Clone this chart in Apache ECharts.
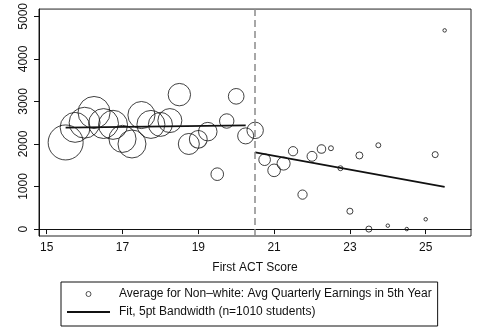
<!DOCTYPE html>
<html>
<head>
<meta charset="utf-8">
<script src="https://cdn.jsdelivr.net/npm/echarts@6/dist/echarts.min.js"></script>
<style>
html,body{margin:0;padding:0;background:#fff;}
#chart{width:479px;height:327px;}
</style>
</head>
<body>
<div id="chart"></div>
<script>
// ---- data ----
const actScores = [15.5, 15.75, 16, 16.25, 16.5, 16.75, 17, 17.25, 17.5, 17.75, 18, 18.25, 18.5, 18.75, 19, 19.25, 19.5, 19.75, 20, 20.25, 20.5,
                   20.75, 21, 21.25, 21.5, 21.75, 22, 22.25, 22.5, 22.75, 23, 23.25, 23.5, 23.75, 24, 24.5, 25, 25.25, 25.5];
const avgEarnings = [2036, 2390, 2500, 2740, 2480, 2450, 2120, 2000, 2680, 2460, 2460, 2550, 3160, 2000, 2110, 2290, 1290, 2540, 3120, 2190, 2320,
                     1630, 1380, 1540, 1830, 810, 1710, 1880, 1900, 1430, 420, 1730, 0, 1970, 80, 0, 230, 1750, 4670];
const binWeight = [100, 73, 78, 84, 73, 69, 60, 64, 60, 64, 47, 47, 41, 36, 26, 28, 13, 17, 20, 21, 22,
                   11, 13, 14, 7, 7, 8, 6, 2, 2, 3, 4, 3, 2, 1, 1, 1, 3, 1];
const fitLeftX = [15.5, 20.25];
const fitLeftY = [2385, 2435];
const fitRightX = [20.5, 25.5];
const fitRightY = [1805, 990];
const cutoff = 20.5;
const xTicks = [15, 17, 19, 21, 23, 25];
const yTicks = [0, 1000, 2000, 3000, 4000, 5000];
const scatterName = 'Average for Non–white: Avg Quarterly Earnings in 5th Year';
const fitName = 'Fit, 5pt Bandwidth (n=1010 students)';
const xTitle = 'First ACT Score';

const FONT = "'Liberation Sans', Arial, Helvetica, sans-serif";
const scatterData = actScores.map((x, i) => [x, avgEarnings[i], binWeight[i]]);
const leftData = fitLeftX.map((x, i) => [x, fitLeftY[i]]);
const rightData = fitRightX.map((x, i) => [x, fitRightY[i]]);

const chart = echarts.init(document.getElementById('chart'));
chart.setOption({
  animation: false,
  backgroundColor: '#fff',
  grid: {left: 39, right: 8, top: 6, bottom: 91, show: true, borderColor: '#222', borderWidth: 1, containLabel: false},
  xAxis: {
    type: 'value', min: 14.797, max: 26.195,
    name: xTitle, nameLocation: 'middle', nameGap: 26,
    nameTextStyle: {fontFamily: FONT, fontSize: 12, color: '#111'},
    axisLine: {show: true, lineStyle: {color: '#111', width: 1}},
    axisTick: {show: true, length: 5, customValues: xTicks, lineStyle: {color: '#111'}},
    axisLabel: {customValues: xTicks, margin: 6, fontFamily: FONT, fontSize: 12, color: '#111', formatter: (v) => String(v)},
    splitLine: {show: false}
  },
  yAxis: {
    type: 'value', min: -163, max: 5171,
    axisLine: {show: true, lineStyle: {color: '#111', width: 1}},
    axisTick: {show: true, length: 5, customValues: yTicks, lineStyle: {color: '#111'}},
    axisLabel: {customValues: yTicks, rotate: 90, margin: 9, fontFamily: FONT, fontSize: 12, color: '#111', formatter: (v) => String(v)},
    splitLine: {show: false}
  },
  legend: {
    orient: 'vertical', left: 61, top: 282,
    itemWidth: 43, itemHeight: 5, itemGap: 6,
    padding: [6, 6, 8, 6],
    borderColor: '#111', borderWidth: 1,
    data: [
      {name: scatterName, icon: 'circle', itemStyle: {color: 'rgba(0,0,0,0)', borderColor: '#111', borderWidth: 0.9}},
      {name: fitName, icon: 'path://M0,0L43,0L43,1.8L0,1.8Z', itemStyle: {color: '#111', borderWidth: 0}}
    ],
    textStyle: {fontFamily: FONT, fontSize: 12, color: '#111', padding: [0, 0, 0, 4]},
    selectedMode: false
  },
  series: [
    {
      name: scatterName, type: 'scatter', data: scatterData,
      symbol: 'circle',
      symbolSize: (v) => 3.5 * Math.sqrt(v[2]),
      itemStyle: {color: 'rgba(0,0,0,0)', borderColor: '#111', borderWidth: 1},
      emphasis: {disabled: true}, silent: true,
      markLine: {
        silent: true, symbol: 'none',
        label: {show: false},
        lineStyle: {color: '#8a8a8a', type: [7, 4], width: 1.5},
        data: [{xAxis: cutoff}]
      }
    },
    {
      name: fitName, type: 'line', data: leftData, showSymbol: false, symbol: 'none',
      lineStyle: {color: '#111', width: 1.8}, itemStyle: {color: '#111'}, silent: true
    },
    {
      name: fitName, type: 'line', data: rightData, showSymbol: false, symbol: 'none',
      lineStyle: {color: '#111', width: 1.8}, itemStyle: {color: '#111'}, silent: true
    }
  ]
});
</script>
</body>
</html>
